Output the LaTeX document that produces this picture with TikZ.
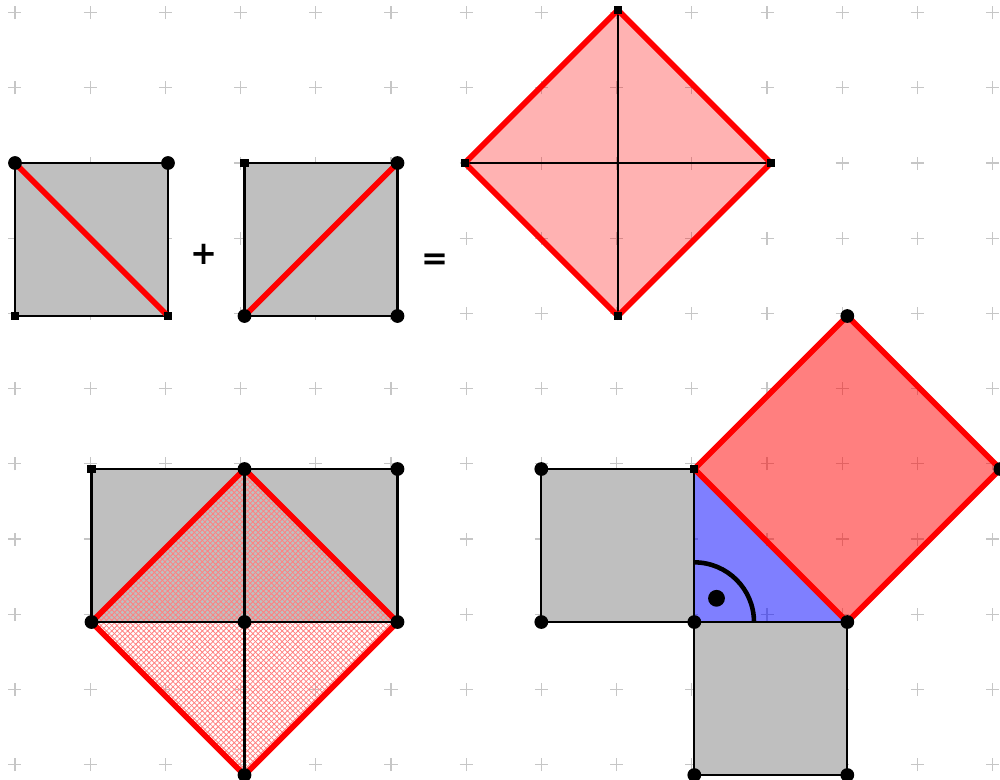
\documentclass[tikz,border=0pt]{standalone}
\usepackage{fontspec}
\setsansfont{DejaVu Sans}
\usetikzlibrary{patterns.meta}
\begin{document}
\begin{tikzpicture}[
  gridmark/.style={gray!45,line width=0.5pt},
  edge/.style={draw=black,line width=0.8pt},
  redge/.style={draw=red,line width=2.1pt},
  sqfill/.style={fill=gray!50},
  dot/.style={circle,fill=black,inner sep=0pt,minimum size=0.18cm},
  sqdot/.style={rectangle,fill=black,inner sep=0pt,minimum size=0.105cm},
  hatchA/.style={pattern={Lines[angle=45,distance=1.4pt,line width=0.3pt]},pattern color=red!50},
  hatchB/.style={pattern={Lines[angle=-45,distance=1.4pt,line width=0.3pt]},pattern color=red!50},
  sign/.style={font=\sffamily\bfseries\large}
]
\useasboundingbox (-0.196,-0.065) rectangle (12.876,10.131);

% grid of crosses
\foreach \i in {0,...,13}
  \foreach \j in {-8,...,2}
    \draw[gridmark] ({0.983*\i-0.085},{8+0.983*\j}) -- ++(0.17,0)
                    ({0.983*\i},{8+0.983*\j-0.085}) -- ++(0,0.17);

% corner points
\coordinate (a1) at (0,8);     \coordinate (a2) at (2,8);
\coordinate (a3) at (2,6);     \coordinate (a4) at (0,6);
\coordinate (b1) at (3,8);     \coordinate (b2) at (5,8);
\coordinate (b3) at (5,6);     \coordinate (b4) at (3,6);
\coordinate (c1) at (5.88,8);  \coordinate (c2) at (7.88,10);
\coordinate (c3) at (9.88,8);  \coordinate (c4) at (7.88,6);
\coordinate (d1) at (1,4);     \coordinate (d2) at (3,4);
\coordinate (d3) at (5,4);     \coordinate (d4) at (5,2);
\coordinate (d5) at (3,2);     \coordinate (d6) at (1,2);
\coordinate (d7) at (3,0);
\coordinate (e1) at (6.88,4);  \coordinate (e2) at (8.88,4);
\coordinate (e3) at (8.88,2);  \coordinate (e4) at (6.88,2);
\coordinate (e5) at (10.88,2); \coordinate (e6) at (10.88,0);
\coordinate (e7) at (8.88,0);  \coordinate (e8) at (10.88,6);
\coordinate (e9) at (12.88,4);

% first row: two squares and the big square
\filldraw[sqfill,edge] (a1) rectangle (a3);
\draw[redge] (a1) -- (a3);
\filldraw[sqfill,edge] (b1) rectangle (b3);
\draw[redge] (b4) -- (b2);
\node[sign] (plus) at (2.47,6.8) {+};
\node[sign] (eq) at (5.49,6.71) {=};
\fill[red,opacity=0.3] (c1) -- (c2) -- (c3) -- (c4) -- cycle;
\draw[edge] (c1) -- (c3) (c2) -- (c4);
\draw[redge] (c1) -- (c2) -- (c3) -- (c4) -- cycle;

% bottom left
\filldraw[sqfill,edge] (d1) rectangle (d4);
\fill[hatchA] (d6) -- (d2) -- (d4) -- (d7) -- cycle;
\fill[hatchB] (d6) -- (d2) -- (d4) -- (d7) -- cycle;
\draw[edge] (d2) -- (d7) (d6) -- (d4);
\draw[redge] (d6) -- (d2) -- (d4) -- (d7) -- cycle;

% bottom right
\filldraw[sqfill,edge] (e1) rectangle (e3);
\filldraw[sqfill,edge] (e3) rectangle (e6);
\fill[blue,opacity=0.5] (e2) -- (e3) -- (e5) -- cycle;
\draw[edge] (e2) -- (e3) -- (e5);
\fill[red,opacity=0.5] (e2) -- (e8) -- (e9) -- (e5) -- cycle;
\draw[redge] (e2) -- (e8) -- (e9) -- (e5) -- cycle;
\draw[line width=1.7pt] ([yshift=0.78cm]e3) arc (90:0:0.78);
\node[dot,minimum size=0.22cm] (rdot) at ([shift={(0.29,0.31)}]e3) {};

% markers
\foreach \p in {a1,a2,b2,b3,b4,d2,d3,d4,d5,d6,d7,e1,e3,e4,e5,e6,e7,e8,e9}
  \node[dot] (m\p) at (\p) {};
\foreach \p in {a3,a4,b1,c1,c2,c3,c4,d1,e2}
  \node[sqdot] (m\p) at (\p) {};
\end{tikzpicture}
\end{document}
